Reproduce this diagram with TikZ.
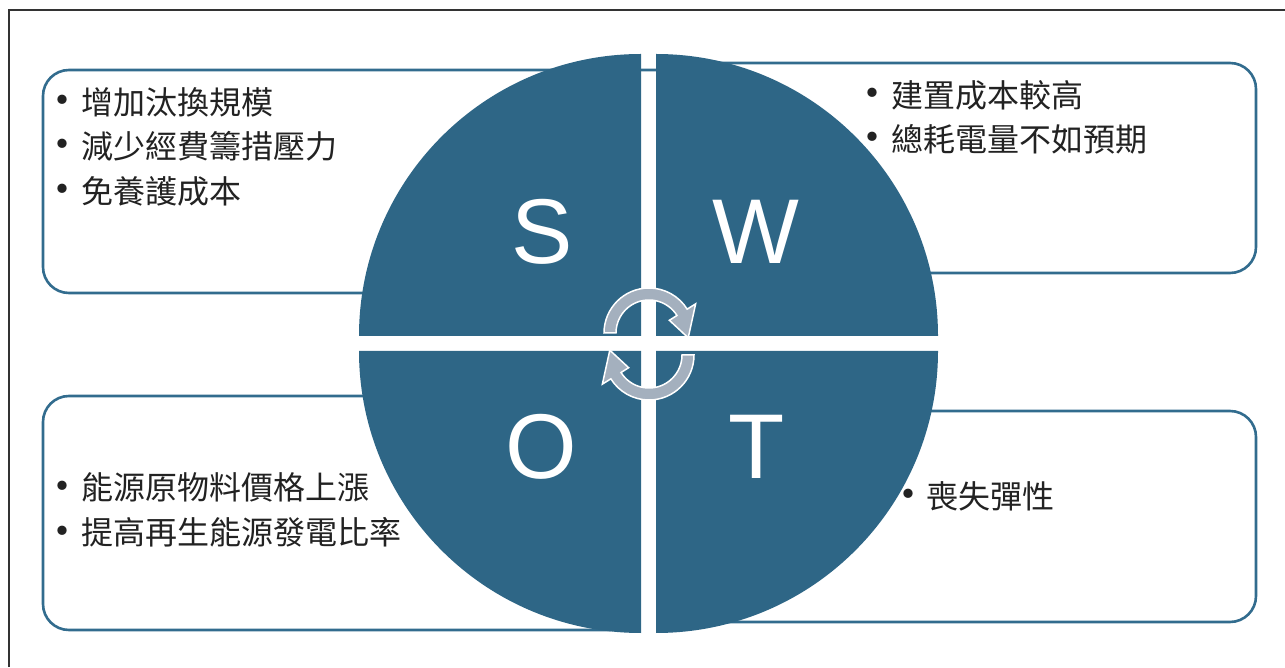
\documentclass[tikz,border=0pt]{standalone}
\usepackage{fontspec}
\newfontfamily\cjk{Noto Sans CJK TC}
\newfontfamily\lettfont{Liberation Sans}
\definecolor{quad}{HTML}{2E6686}
\definecolor{boxline}{HTML}{326C8E}
\definecolor{arrowfill}{HTML}{A4B0BE}
\definecolor{txt}{HTML}{222222}
\tikzset{
  panel/.style={draw=boxline, line width=2.6pt, rounded corners=26pt, fill=white},
  quadrant/.style={fill=quad, draw=none},
  letter/.style={text=white, inner sep=0pt, font=\lettfont\fontsize{92}{92}\selectfont},
  bul/.style={text=txt, inner sep=0pt, yshift=-4pt, font=\cjk\fontsize{44}{44}\selectfont},
  item/.style={text=txt, inner sep=0pt, anchor=west, font=\cjk\fontsize{32}{32}\selectfont},
  cyclearrow/.style={fill=arrowfill, draw=white, line width=1.5pt, line join=miter}
}
\begin{document}
\begin{tikzpicture}[x=1pt,y=1pt]
\useasboundingbox (0,0) rectangle (1285,667);
% frame
\draw[color=black!80, line width=1.2pt] (9,0) -- (9,657) -- (1285,657);
% panels
\draw[panel] (43,374) rectangle (700,597);
\draw[panel] (670,394) rectangle (1256,604);
\draw[panel] (43,37) rectangle (636,271);
\draw[panel] (662,45) rectangle (1256,256);
% quadrants
\fill[quadrant] (641,331) -- ++(-282,0) arc[start angle=180, end angle=90, radius=282pt] -- cycle;
\fill[quadrant] (656,331) -- ++(0,282) arc[start angle=90, end angle=0, radius=282pt] -- cycle;
\fill[quadrant] (641,316) -- ++(-282,0) arc[start angle=180, end angle=270, radius=282pt] -- cycle;
\fill[quadrant] (656,316) -- ++(0,-282) arc[start angle=270, end angle=360, radius=282pt] -- cycle;
% letters
\node[letter] (S) at (542,435.5) {S};
\node[letter] (W) at (756,435.5) {W};
\node[letter] (O) at (541,220) {O};
\node[letter] (T) at (757,220) {T};
% cycle arrows
\path[cyclearrow, shift={(649,334)}] (180:45pt) arc[start angle=180, end angle=32, radius=45pt]
  -- (32:55pt) -- (-7:39.5pt) -- (32:24pt) -- (32:33pt)
  arc[start angle=32, end angle=180, radius=33pt] -- cycle;
\path[cyclearrow, shift={(649,312)}] (0:45pt) arc[start angle=0, end angle=-148, radius=45pt]
  -- (212:55pt) -- (173:39.5pt) -- (212:24pt) -- (212:33pt)
  arc[start angle=-148, end angle=0, radius=33pt] -- cycle;
% S texts
\node[bul] (sb1) at (62,565) {•};
\node[item] (s1) at (81,565) {增加汰換規模};
\node[bul] (sb2) at (62,521) {•};
\node[item] (s2) at (81,521) {減少經費籌措壓力};
\node[bul] (sb3) at (62,476) {•};
\node[item] (s3) at (81,476) {免養護成本};
% W texts
\node[bul] (wb1) at (872,572) {•};
\node[item] (w1) at (891,572) {建置成本較高};
\node[bul] (wb2) at (872,528) {•};
\node[item] (w2) at (891,528) {總耗電量不如預期};
% O texts
\node[bul] (ob1) at (62,179.5) {•};
\node[item] (o1) at (81,179.5) {能源原物料價格上漲};
\node[bul] (ob2) at (62,134.5) {•};
\node[item] (o2) at (81,134.5) {提高再生能源發電比率};
% T texts
\node[bul] (tb1) at (908,171) {•};
\node[item] (t1) at (926,171) {喪失彈性};
\end{tikzpicture}
\end{document}
